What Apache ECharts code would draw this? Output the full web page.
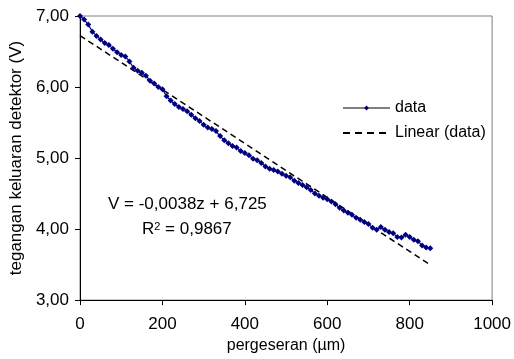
<!DOCTYPE html>
<html>
<head>
<meta charset="utf-8">
<script src="https://cdn.jsdelivr.net/npm/echarts@6/dist/echarts.min.js"></script>
<style>
html,body{margin:0;padding:0;background:#fff;}
#chart{width:514px;height:359px;}
</style>
</head>
<body>
<div id="chart"></div>
<script>
// displacement z (µm)
var zValues = [0,10,20,30,40,50,60,70,80,90,100,110,120,130,140,150,160,170,180,190,
  200,210,220,230,240,250,260,270,280,290,300,310,320,330,340,350,360,370,380,390,
  400,410,420,430,440,450,460,470,480,490,500,510,520,530,540,550,560,570,580,590,
  600,610,620,630,640,650,660,670,680,690,700,710,720,730,740,750,760,770,780,790,
  800,810,820,830,840,850];
// detector output voltage (V)
var vValues = [7.00,6.95,6.88,6.78,6.72,6.67,6.62,6.59,6.54,6.49,6.45,6.43,6.36,6.27,6.23,6.20,6.16,6.09,6.05,6.00,
  5.97,5.87,5.81,5.76,5.72,5.69,5.66,5.61,5.56,5.52,5.47,5.43,5.41,5.38,5.31,5.25,5.21,5.17,5.15,5.10,
  5.07,5.04,4.99,4.97,4.93,4.88,4.85,4.83,4.81,4.78,4.75,4.73,4.68,4.65,4.62,4.59,4.55,4.50,4.47,4.44,
  4.42,4.39,4.35,4.30,4.26,4.23,4.20,4.16,4.13,4.10,4.07,4.02,3.99,4.03,3.99,3.96,3.94,3.89,3.88,3.92,
  3.89,3.85,3.83,3.77,3.74,3.73];
// linear trendline: V = slope*z + intercept
var fitSlope = -0.0038;
var fitIntercept = 6.725;
var fitRange = [0, 850];
var xTicks = [0, 200, 400, 600, 800, 1000];
var yTicks = [3, 4, 5, 6, 7];

var dataPts = zValues.map(function (z, i) { return [z, vValues[i]]; });
var fitPts = fitRange.map(function (z) { return [z, fitSlope * z + fitIntercept]; });

var FONT = '"Liberation Sans", Arial, sans-serif';
var chart = echarts.init(document.getElementById('chart'), null, {renderer: 'canvas'});
chart.setOption({
  backgroundColor: '#ffffff',
  animation: false,
  textStyle: {fontFamily: FONT},
  grid: {left: 80, right: 18, top: 16, bottom: 55, show: true, borderColor: '#7f7f7f', borderWidth: 1, backgroundColor: 'transparent'},
  legend: {
    orient: 'vertical', left: 337, top: 95, itemWidth: 47, itemHeight: 6, itemGap: 9,
    textStyle: {fontFamily: FONT, fontSize: 16, color: '#000'},
    data: [
      {name: 'data', itemStyle: {color: '#000080'}, lineStyle: {color: '#000', width: 1}},
      {name: 'Linear (data)', itemStyle: {color: 'rgba(0,0,0,0)', borderWidth: 0}, lineStyle: {color: '#000', width: 2, type: [7, 5]}}
    ]
  },
  xAxis: {
    type: 'value', min: xTicks[0], max: xTicks[xTicks.length - 1], interval: 200,
    name: 'pergeseran (µm)', nameLocation: 'middle', nameGap: 37,
    nameTextStyle: {fontFamily: FONT, fontSize: 16, color: '#000'},
    axisLine: {show: true, onZero: false, lineStyle: {color: '#000', width: 1}},
    axisTick: {show: true, inside: false, length: 5, lineStyle: {color: '#000'}},
    axisLabel: {fontFamily: FONT, fontSize: 17, color: '#000', margin: 16,
      formatter: function (v) { return String(v); }},
    splitLine: {show: false}
  },
  yAxis: {
    type: 'value', min: yTicks[0], max: yTicks[yTicks.length - 1], interval: 1,
    name: 'tegangan keluaran detektor (V)', nameLocation: 'middle', nameGap: 55,
    nameTextStyle: {fontFamily: FONT, fontSize: 17, color: '#000'},
    axisLine: {show: true, onZero: false, lineStyle: {color: '#000', width: 1}},
    axisTick: {show: true, inside: false, length: 5, lineStyle: {color: '#000'}},
    axisLabel: {fontFamily: FONT, fontSize: 17, color: '#000', margin: 11,
      formatter: function (v) { return v.toFixed(2).replace('.', ','); }},
    splitLine: {show: false}
  },
  series: [
    {
      name: 'data', type: 'line', data: dataPts,
      symbol: 'diamond', symbolSize: 6, showSymbol: true,
      lineStyle: {color: '#000080', width: 1.2},
      itemStyle: {color: '#000080'},
      z: 3
    },
    {
      name: 'Linear (data)', type: 'line', data: fitPts,
      symbol: 'none', showSymbol: false,
      lineStyle: {color: '#000', width: 1.5, type: [6, 4]},
      itemStyle: {color: '#000'},
      z: 2
    }
  ],
  graphic: [
    {type: 'text', left: 108, top: 196, style: {text: 'V = -0,0038z + 6,725', font: '17px ' + FONT, fill: '#000'}},
    {type: 'text', left: 142, top: 221, style: {
      text: 'R{s|2} = 0,9867', font: '17px ' + FONT, fill: '#000',
      rich: {s: {fontSize: 11, fontFamily: FONT, verticalAlign: 'top', lineHeight: 17}}
    }}
  ]
});
</script>
</body>
</html>
